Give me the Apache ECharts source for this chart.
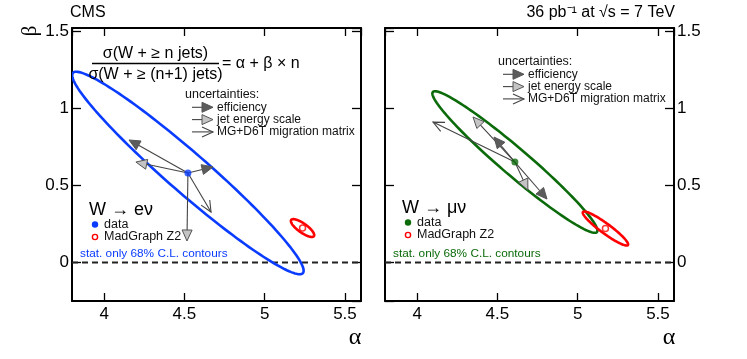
<!DOCTYPE html>
<html>
<head>
<meta charset="utf-8">
<script src="https://cdn.jsdelivr.net/npm/echarts@6/dist/echarts.min.js"></script>
<style>
  html, body { margin: 0; padding: 0; background: #fff; }
  #chart { width: 747px; height: 359px; }
</style>
</head>
<body>
<div id="chart"></div>
<script>
// axis ranges
const alphaRange = [3.8, 5.6]
const betaRange = [-0.25, 1.52]

// W -> e nu
const eData = [[4.522, 0.580]]
// ellipse: centre, end of long axis, end of short axis
const eEllipse = [[4.522, 0.580, 5.238, -0.069, 4.604, 0.678]]
const eMadGraph = [[5.236, 0.223]]
const eMadGraphEllipse = [[5.236, 0.223, 5.307, 0.171, 5.251, 0.248]]
const eEffArrows = [[4.155, 0.794], [4.678, 0.619]]
const eJesArrows = [[4.198, 0.651], [4.516, 0.139]]
const eMigArrows = [[4.666, 0.327]]

// W -> mu nu
const muData = [[4.609, 0.651]]
const muEllipse = [[4.609, 0.651, 5.120, 0.197, 4.664, 0.718]]
const muMadGraph = [[5.173, 0.220]]
const muMadGraphEllipse = [[5.173, 0.220, 5.313, 0.113, 5.191, 0.246]]
const muEffArrows = [[4.479, 0.813], [4.809, 0.411]]
const muJesArrows = [[4.348, 0.943], [4.690, 0.469]]
const muMigArrows = [[4.099, 0.910]]

const zeroLine = [[3.8, 0], [5.6, 0]]

const FONT = 'Liberation Sans, Arial, sans-serif'
const SERIF = 'Liberation Serif, Times New Roman, serif'
const BLUE = '#0a3cff'
const GREEN = '#0b6b0b'
const RED = '#ff0000'

const chart = echarts.init(document.getElementById('chart'), null, { renderer: 'canvas' })

// arrow pieces in pixel space
function arrowParts(p0, p1, kind) {
  const dx = p1[0] - p0[0]
  const dy = p1[1] - p0[1]
  const len = Math.sqrt(dx * dx + dy * dy) || 1
  const ux = dx / len
  const uy = dy / len
  const hl = 11
  const hw = 5
  const bx = p1[0] - ux * hl
  const by = p1[1] - uy * hl
  const left = [bx - uy * hw, by + ux * hw]
  const right = [bx + uy * hw, by - ux * hw]
  const out = []
  const end = kind === 'mig' ? p1 : [bx, by]
  out.push({
    type: 'line',
    shape: { x1: p0[0], y1: p0[1], x2: end[0], y2: end[1] },
    style: { stroke: '#444', lineWidth: 1.1 }
  })
  if (kind === 'mig') {
    out.push({
      type: 'polyline',
      shape: { points: [left, p1, right] },
      style: { stroke: '#444', fill: null, lineWidth: 1.1 }
    })
  } else {
    out.push({
      type: 'polygon',
      shape: { points: [left, p1, right] },
      style: { fill: kind === 'eff' ? '#5c5c5c' : '#c4c4c4', stroke: '#555', lineWidth: 1 }
    })
  }
  return out
}

function ellipseRender(color, width) {
  return function (params, api) {
    const c = api.coord([api.value(0), api.value(1)])
    const m = api.coord([api.value(2), api.value(3)])
    const n = api.coord([api.value(4), api.value(5)])
    const pts = []
    for (let i = 0; i < 160; i++) {
      const t = (i / 160) * Math.PI * 2
      pts.push([
        c[0] + (m[0] - c[0]) * Math.cos(t) + (n[0] - c[0]) * Math.sin(t),
        c[1] + (m[1] - c[1]) * Math.cos(t) + (n[1] - c[1]) * Math.sin(t)
      ])
    }
    return {
      type: 'polygon',
      shape: { points: pts },
      style: { fill: 'none', stroke: color, lineWidth: width }
    }
  }
}

function arrowRender(kind) {
  return function (params, api) {
    const p0 = api.coord([api.value(0), api.value(1)])
    const p1 = api.coord([api.value(2), api.value(3)])
    return { type: 'group', children: arrowParts(p0, p1, kind) }
  }
}

function withStart(start, ends) {
  return ends.map((p) => [start[0], start[1], p[0], p[1]])
}

function axisX(gridIndex, pos, labels) {
  return {
    type: 'value',
    gridIndex: gridIndex,
    position: pos,
    min: alphaRange[0],
    max: alphaRange[1],
    splitNumber: 4,
    axisLine: { show: true, onZero: false, lineStyle: { color: '#000', width: 2 } },
    axisTick: { show: true, inside: true, length: 8, lineStyle: { color: '#000', width: 1.3 } },
    axisLabel: {
      show: labels,
      showMinLabel: false,
      showMaxLabel: false,
      color: '#000',
      fontSize: 17,
      fontFamily: FONT,
      margin: 5
    },
    splitLine: { show: false }
  }
}

function axisY(gridIndex, pos, labels) {
  return {
    type: 'value',
    gridIndex: gridIndex,
    position: pos,
    min: betaRange[0],
    max: betaRange[1],
    splitNumber: 4,
    axisLine: { show: true, onZero: false, lineStyle: { color: '#000', width: 2 } },
    axisTick: { show: true, inside: true, length: 9, lineStyle: { color: '#000', width: 1.3 } },
    axisLabel: {
      show: labels,
      showMinLabel: false,
      showMaxLabel: false,
      color: '#000',
      fontSize: 17,
      fontFamily: FONT,
      margin: 3
    },
    splitLine: { show: false }
  }
}

function panelSeries(xi, yi, color, data, ell, mg, mgEll, eff, jes, mig) {
  const start = data[0]
  const base = { xAxisIndex: xi, yAxisIndex: yi }
  return [
    Object.assign({
      type: 'line', data: zeroLine, symbol: 'none', silent: true,
      lineStyle: { color: '#222', width: 2, type: [6, 4] }, z: 2
    }, base),
    Object.assign({
      type: 'custom', data: ell, renderItem: ellipseRender(color, 2.6), clip: true,
      encode: { x: [0, 2, 4], y: [1, 3, 5] }, z: 3
    }, base),
    Object.assign({
      type: 'custom', data: withStart(start, mig), renderItem: arrowRender('mig'),
      encode: { x: [0, 2], y: [1, 3] }, z: 4
    }, base),
    Object.assign({
      type: 'custom', data: withStart(start, jes), renderItem: arrowRender('jes'),
      encode: { x: [0, 2], y: [1, 3] }, z: 4
    }, base),
    Object.assign({
      type: 'custom', data: withStart(start, eff), renderItem: arrowRender('eff'),
      encode: { x: [0, 2], y: [1, 3] }, z: 4
    }, base),
    Object.assign({
      type: 'custom', data: mgEll, renderItem: ellipseRender(RED, 2.6), clip: true,
      encode: { x: [0, 2, 4], y: [1, 3, 5] }, z: 5
    }, base),
    Object.assign({
      type: 'scatter', data: mg, symbol: 'circle', symbolSize: 6,
      itemStyle: { color: '#fff', borderColor: RED, borderWidth: 1.5 }, z: 6
    }, base),
    Object.assign({
      type: 'scatter', data: data, symbol: 'circle', symbolSize: 7,
      itemStyle: { color: color }, z: 7
    }, base)
  ]
}

function txt(x, y, text, size, color, opts) {
  return {
    type: 'text',
    x: x,
    y: y,
    rotation: (opts && opts.rotation) || 0,
    style: Object.assign({
      text: text,
      font: size + 'px ' + FONT,
      fill: color || '#000',
      align: 'left',
      verticalAlign: 'middle'
    }, (opts && opts.style) || {}),
    z: 100
  }
}

function legendBlock(x, yTitle, arrowX) {
  const rows = [['eff', 'efficiency'], ['jes', 'jet energy scale'], ['mig', 'MG+D6T migration matrix']]
  const els = [txt(x, yTitle, 'uncertainties:', 12.5, '#111')]
  rows.forEach((r, i) => {
    const y = yTitle + 12.3 * (i + 1)
    arrowParts([arrowX, y], [arrowX + 21, y], r[0]).forEach((p) => {
      p.z = 100
      els.push(p)
    })
    els.push(txt(arrowX + 25, y, r[1], 12, '#111'))
  })
  return els
}

function keyBlock(x, y, title, color) {
  return [
    txt(x, y, title, 18, '#000'),
    { type: 'circle', shape: { cx: x + 6, cy: y + 14.5, r: 3.2 }, style: { fill: color }, z: 100 },
    txt(x + 15, y + 14.5, 'data', 12.5, '#111'),
    { type: 'circle', shape: { cx: x + 6, cy: y + 27, r: 2.6 }, style: { fill: '#fff', stroke: RED, lineWidth: 1.4 }, z: 100 },
    txt(x + 15, y + 27, 'MadGraph Z2', 12.5, '#111')
  ]
}

const graphics = [].concat(
  [
    txt(70, 13, 'CMS', 16, '#000'),
    txt(675, 13, '36 pb⁻¹ at √s = 7 TeV', 16, '#000', { style: { align: 'right' } }),
    {
      type: 'text', x: 30, y: 31, rotation: Math.PI / 2, z: 100,
      style: { text: 'β', font: '21px ' + SERIF, fill: '#000', align: 'center', verticalAlign: 'middle' }
    },
    {
      type: 'text', x: 355, y: 338, z: 100,
      style: { text: 'α', font: '24px ' + SERIF, fill: '#000', align: 'center', verticalAlign: 'middle' }
    },
    {
      type: 'text', x: 669, y: 338, z: 100,
      style: { text: 'α', font: '24px ' + SERIF, fill: '#000', align: 'center', verticalAlign: 'middle' }
    },
    txt(155.5, 53.5, 'σ(W + ≥ n jets)', 16, '#000', { style: { align: 'center' } }),
    { type: 'line', shape: { x1: 92, y1: 63.5, x2: 219, y2: 63.5 }, style: { stroke: '#000', lineWidth: 1.3 }, z: 100 },
    txt(155.5, 75, 'σ(W + ≥ (n+1) jets)', 16, '#000', { style: { align: 'center' } }),
    txt(222, 64, '= α + β × n', 16, '#000'),
    txt(80, 254, 'stat. only 68% C.L. contours', 11.8, BLUE),
    txt(393, 254, 'stat. only 68% C.L. contours', 11.8, GREEN)
  ],
  legendBlock(185, 95, 192),
  legendBlock(498, 62, 503),
  keyBlock(89, 210, 'W → eν', BLUE),
  keyBlock(402, 208, 'W → μν', GREEN)
)

const option = {
  animation: false,
  backgroundColor: '#fff',
  grid: [
    { left: 72, top: 28, width: 289, height: 273 },
    { left: 385, top: 28, width: 289, height: 273 }
  ],
  xAxis: [
    axisX(0, 'bottom', true),
    axisX(0, 'top', false),
    axisX(1, 'bottom', true),
    axisX(1, 'top', false)
  ],
  yAxis: [
    axisY(0, 'left', true),
    axisY(0, 'right', false),
    axisY(1, 'left', false),
    axisY(1, 'right', true)
  ],
  series: [].concat(
    panelSeries(0, 0, BLUE, eData, eEllipse, eMadGraph, eMadGraphEllipse, eEffArrows, eJesArrows, eMigArrows),
    panelSeries(2, 3, GREEN, muData, muEllipse, muMadGraph, muMadGraphEllipse, muEffArrows, muJesArrows, muMigArrows)
  ),
  graphic: graphics
}

chart.setOption(option)
</script>
</body>
</html>
